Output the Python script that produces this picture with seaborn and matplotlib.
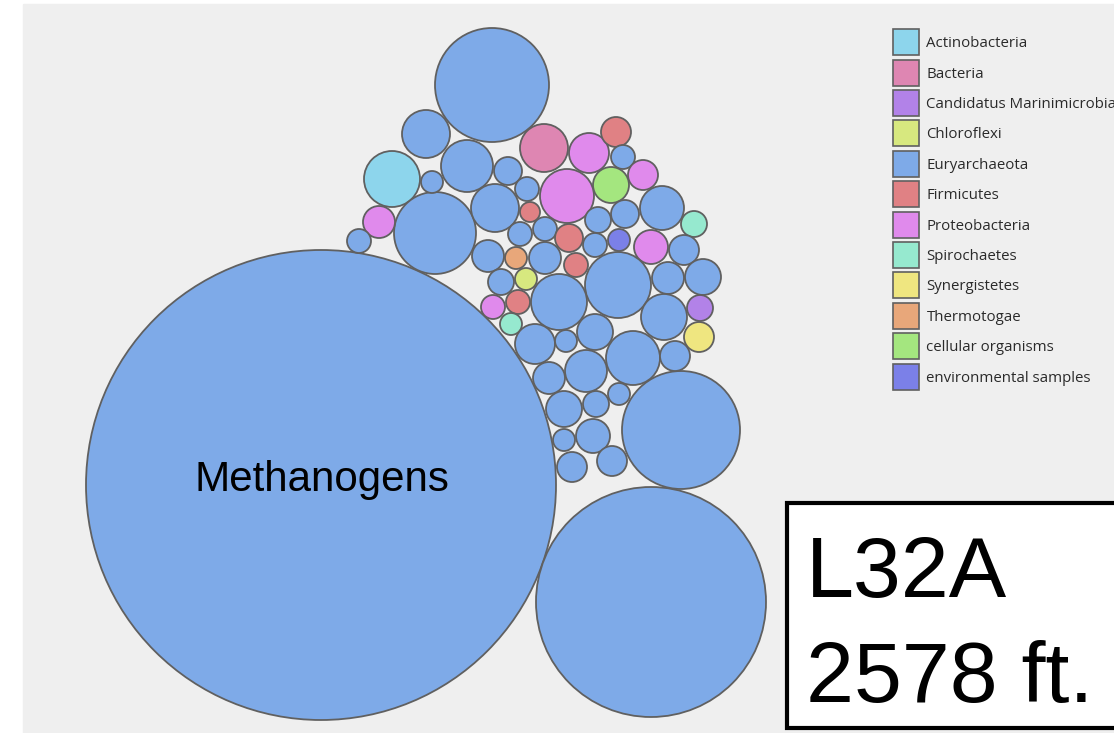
import pandas as pd
import seaborn as sns
import matplotlib
matplotlib.use('Agg')
import matplotlib.pyplot as plt
from matplotlib.patches import Rectangle, Patch
from matplotlib.legend_handler import HandlerPatch

# 图例中的门类及颜色
phyla = ['Actinobacteria', 'Bacteria', 'Candidatus Marinimicrobia', 'Chloroflexi',
         'Euryarchaeota', 'Firmicutes', 'Proteobacteria', 'Spirochaetes',
         'Synergistetes', 'Thermotogae', 'cellular organisms', 'environmental samples']
colors = ['#8dd5ec', '#de86b2', '#b282e8', '#d7e87f', '#7eaae8', '#e08184',
          '#e08aec', '#96e9cf', '#efe680', '#e8a77a', '#a4e67f', '#7b80e8']

# 每个气泡：位置(像素)、半径(像素)、所属门类
bx = [321, 651, 681, 492, 392, 435, 426, 467, 432, 379, 359, 544, 589, 616, 623, 643,
      611, 567, 508, 527, 495, 530, 662, 694, 625, 598, 545, 520, 569, 595, 619, 651,
      684, 488, 516, 545, 576, 618, 668, 703, 501, 526, 559, 493, 518, 511, 700, 664,
      699, 535, 566, 595, 633, 675, 549, 586, 619, 564, 596, 564, 593, 572, 612]
by = [485, 602, 430, 85, 179, 233, 134, 166, 182, 222, 241, 148, 153, 132, 157, 175,
      185, 196, 171, 189, 208, 212, 208, 224, 214, 220, 229, 234, 238, 245, 240, 247,
      250, 256, 258, 258, 265, 285, 278, 277, 282, 279, 302, 307, 302, 324, 308, 317,
      337, 344, 341, 332, 358, 356, 378, 371, 394, 409, 404, 440, 436, 467, 461]
br = [235, 115, 59, 57, 28, 41, 24, 26, 11, 16, 12, 24, 20, 15, 12, 15,
      18, 27, 14, 12, 24, 10, 22, 13, 14, 13, 12, 12, 14, 12, 11, 17,
      15, 16, 11, 16, 12, 33, 16, 18, 13, 11, 28, 12, 12, 11, 13, 23,
      15, 20, 11, 18, 27, 15, 16, 21, 11, 18, 13, 11, 17, 15, 15]
bp = ['Euryarchaeota'] * 4 + ['Actinobacteria'] + ['Euryarchaeota'] * 4 + \
     ['Proteobacteria', 'Euryarchaeota', 'Bacteria', 'Proteobacteria', 'Firmicutes',
      'Euryarchaeota', 'Proteobacteria', 'cellular organisms', 'Proteobacteria',
      'Euryarchaeota', 'Euryarchaeota', 'Euryarchaeota', 'Firmicutes', 'Euryarchaeota',
      'Spirochaetes', 'Euryarchaeota', 'Euryarchaeota', 'Euryarchaeota', 'Euryarchaeota',
      'Firmicutes', 'Euryarchaeota', 'environmental samples', 'Proteobacteria',
      'Euryarchaeota', 'Euryarchaeota', 'Thermotogae', 'Euryarchaeota', 'Firmicutes',
      'Euryarchaeota', 'Euryarchaeota', 'Euryarchaeota', 'Euryarchaeota', 'Chloroflexi',
      'Euryarchaeota', 'Proteobacteria', 'Firmicutes', 'Spirochaetes',
      'Candidatus Marinimicrobia', 'Euryarchaeota', 'Synergistetes'] + \
     ['Euryarchaeota'] * 14

df = pd.DataFrame({'x': bx, 'y': by, 'r': br, 'phylum': bp})
# 半径(像素) -> 散点面积(pt^2)，dpi=100 时 1px = 0.72pt
df['s'] = (2 * df.r * 0.72) ** 2

palette = dict(zip(phyla, colors))

fig = plt.figure(figsize=(11.14, 7.33), dpi=100)
ax = fig.add_axes([0, 0, 1, 1])
ax.set_xlim(0, 1114)
ax.set_ylim(733, 0)
ax.axis('off')

# 灰色底
ax.add_patch(Rectangle((23, 4), 1114 - 23, 733 - 4, color='#efefef', zorder=0))

sns.scatterplot(data=df, x='x', y='y', hue='phylum', palette=palette,
                size='s', sizes=(df.s.min(), df.s.max()),
                edgecolor='#606060', linewidth=1.3, alpha=1, legend=False,
                ax=ax, zorder=2)

# 最大气泡标签
ax.text(322, 491, 'Methanogens', fontsize=30.3, family='Liberation Sans',
        ha='center', va='baseline', zorder=3)


# 图例方块：18.7pt 见方，居中于图例行
def square(legend, orig_handle, xdescent, ydescent, width, height, fontsize):
    side = 18.7
    return Rectangle((-xdescent, -ydescent + (height - side) / 2), side, side)


handles = [Patch(facecolor=c, edgecolor='#606060', linewidth=1.2) for c in colors]
leg = ax.legend(handles, phyla, loc='upper left',
                bbox_to_anchor=(893 / 1114, 1 - 34 / 733),
                frameon=False, borderpad=0, borderaxespad=0,
                handlelength=1.73, handleheight=1.3, handletextpad=0.5,
                labelspacing=0.88, prop={'family': 'Open Sans', 'size': 10.8},
                handler_map={Patch: HandlerPatch(patch_func=square)})
for t in leg.get_texts():
    t.set_color('#2a2a2a')

# 右下角标注框
ax.add_patch(Rectangle((787, 503), 400, 225, facecolor='white', edgecolor='black',
                       linewidth=3, zorder=4))
ax.text(806, 597, 'L32A', fontsize=62, family='Liberation Sans', va='baseline', zorder=5)
ax.text(806, 702, '2578 ft.', fontsize=62, family='Liberation Sans', va='baseline', zorder=5)

fig.savefig('out.png', dpi=100)
